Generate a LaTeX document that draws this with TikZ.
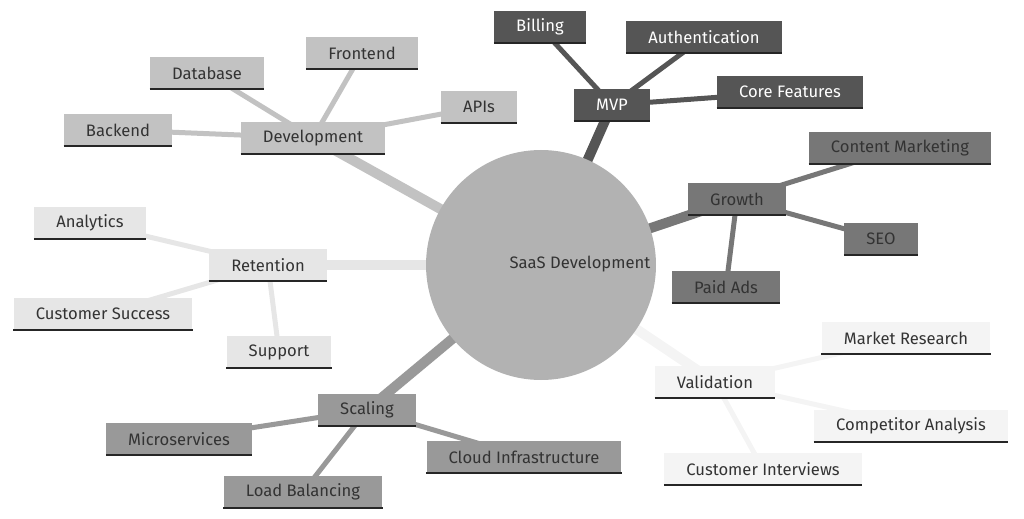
\documentclass[tikz,border=0pt]{standalone}
\usepackage{fontspec}
\setmainfont{Fira Sans}
\usetikzlibrary{backgrounds}
\definecolor{devc}{HTML}{C2C2C2}
\definecolor{mvpc}{HTML}{555555}
\definecolor{groc}{HTML}{777777}
\definecolor{retc}{HTML}{E6E6E6}
\definecolor{scac}{HTML}{999999}
\definecolor{valc}{HTML}{F4F4F4}
\begin{document}
\begin{tikzpicture}[x=0.5pt,y=-0.5pt,font=\fontsize{8.3}{10}\selectfont]
  \tikzstyle{box}=[rectangle,minimum height=15.8pt,inner xsep=11pt,inner ysep=2pt,text=black!80,
    append after command={(\tikzlastnode.south west) edge[draw=black!85,line width=1pt] (\tikzlastnode.south east)}]
  \tikzstyle{trunk}=[line width=5pt]
  \tikzstyle{twig}=[line width=2.5pt]
  \useasboundingbox (0,0) rectangle (1024,519);

  \node[circle,fill=black!30,minimum size=115pt] (root) at (541,265) {};
  \node[text=black!80] (roottext) at (580,264) {SaaS Development};

  \node[box,fill=devc] (dev) at (313,138) {Development};
  \node[box,fill=devc] (db) at (207,73) {Database};
  \node[box,fill=devc] (fe) at (362,53) {Frontend};
  \node[box,fill=devc] (api) at (479,107) {APIs};
  \node[box,fill=devc] (be) at (118,130) {Backend};

  \node[box,fill=mvpc,text=white] (mvp) at (612,105) {MVP};
  \node[box,fill=mvpc,text=white] (bill) at (540,27) {Billing};
  \node[box,fill=mvpc,text=white] (auth) at (704,37) {Authentication};
  \node[box,fill=mvpc,text=white] (core) at (790,92) {Core Features};

  \node[box,fill=groc] (grow) at (737,199) {Growth};
  \node[box,fill=groc] (cont) at (900,148) {Content Marketing};
  \node[box,fill=groc] (seo) at (881,239) {SEO};
  \node[box,fill=groc] (paid) at (726,287) {Paid Ads};

  \node[box,fill=retc] (ret) at (268,265) {Retention};
  \node[box,fill=retc] (ana) at (90,223) {Analytics};
  \node[box,fill=retc] (cs) at (103,314) {Customer Success};
  \node[box,fill=retc] (sup) at (279,352) {Support};

  \node[box,fill=scac] (sca) at (367,410) {Scaling};
  \node[box,fill=scac] (micro) at (179,439) {Microservices};
  \node[box,fill=scac] (lb) at (303,492) {Load Balancing};
  \node[box,fill=scac] (cloud) at (524,457) {Cloud Infrastructure};

  \node[box,fill=valc] (val) at (715,382) {Validation};
  \node[box,fill=valc] (mr) at (906,338) {Market Research};
  \node[box,fill=valc] (comp) at (911,426) {Competitor Analysis};
  \node[box,fill=valc] (ci) at (763,469) {Customer Interviews};

  \begin{scope}[on background layer]
    \draw[trunk,devc] (root.center) -- (dev.center);
    \draw[trunk,mvpc] (root.center) -- (mvp.center);
    \draw[trunk,groc] (root.center) -- (grow.center);
    \draw[trunk,retc] (root.center) -- (ret.center);
    \draw[trunk,scac] (root.center) -- (sca.center);
    \draw[trunk,valc] (root.center) -- (val.center);
    \foreach \a in {db,fe,api,be} \draw[twig,devc] (dev.center) -- (\a.center);
    \foreach \a in {bill,auth,core} \draw[twig,mvpc] (mvp.center) -- (\a.center);
    \foreach \a in {cont,seo,paid} \draw[twig,groc] (grow.center) -- (\a.center);
    \foreach \a in {ana,cs,sup} \draw[twig,retc] (ret.center) -- (\a.center);
    \foreach \a in {micro,lb,cloud} \draw[twig,scac] (sca.center) -- (\a.center);
    \foreach \a in {mr,comp,ci} \draw[twig,valc] (val.center) -- (\a.center);
  \end{scope}
\end{tikzpicture}
\end{document}
